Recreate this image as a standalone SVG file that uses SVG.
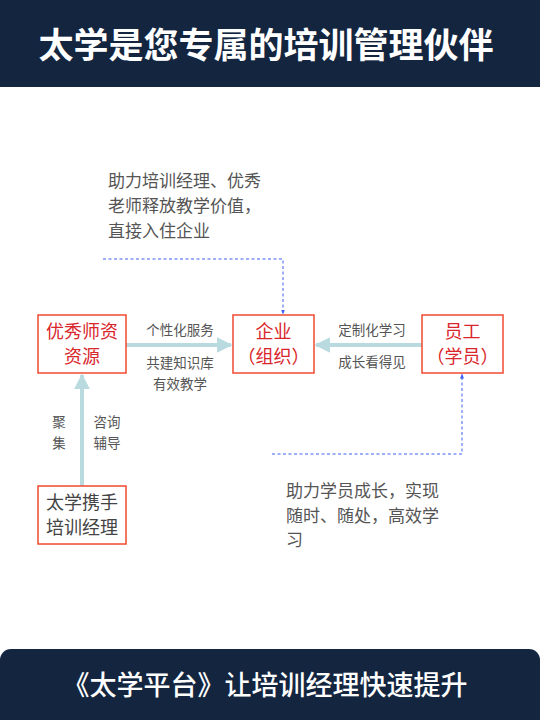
<svg xmlns="http://www.w3.org/2000/svg" width="540" height="720" viewBox="0 0 540 720">
<defs>
<style>
.t{font-family:"Noto Sans CJK SC","Noto Sans",sans-serif}
.box{fill:#fff;stroke:#f0492f;stroke-width:1.5}
.red{fill:#d9262b;font-size:18px}
.dk{fill:#444;font-size:18px}
.lbl{fill:#555;font-size:13.5px}
.para{fill:#555;font-size:17px}
.conn{stroke:#b9dbe0;stroke-width:4;fill:none}
.dash{stroke:#3f5ff5;stroke-width:1;stroke-dasharray:3 2.5;fill:none}
</style>
<marker id="ah" viewBox="0 0 10 10" refX="9" refY="5" markerWidth="4" markerHeight="4" orient="auto" markerUnits="strokeWidth">
<path d="M0,0L10,5L0,10z" fill="#b9dbe0"/>
</marker>
<marker id="ad" viewBox="0 0 10 10" refX="9" refY="5" markerWidth="5" markerHeight="5" orient="auto" markerUnits="strokeWidth">
<path d="M0,1L10,5L0,9z" fill="#3f5ff5"/>
</marker>
</defs>
<rect x="0" y="0" width="540" height="87" fill="#13253f"/>
<text class="t" x="266" y="58" text-anchor="middle" fill="#fff" font-size="35" font-weight="bold">太学是您专属的培训管理伙伴</text>
<g id="connectors">
<line class="conn" x1="126" y1="345" x2="231" y2="345" marker-end="url(#ah)"/>
<line class="conn" x1="422" y1="345" x2="316" y2="345" marker-end="url(#ah)"/>
<line class="conn" x1="82" y1="486" x2="82" y2="375" marker-end="url(#ah)"/>
<polyline class="dash" points="103,259 283,259 283,314" marker-end="url(#ad)"/>
<polyline class="dash" points="272,454 462,454 462,374" marker-end="url(#ad)"/>
<text class="t lbl" x="180" y="335" text-anchor="middle">个性化服务</text>
<text class="t lbl" x="180" y="368" text-anchor="middle">共建知识库</text>
<text class="t lbl" x="180" y="389" text-anchor="middle">有效教学</text>
<text class="t lbl" x="372" y="335" text-anchor="middle">定制化学习</text>
<text class="t lbl" x="372" y="367" text-anchor="middle">成长看得见</text>
<text class="t lbl" x="59" y="427" text-anchor="middle">聚</text>
<text class="t lbl" x="59" y="448" text-anchor="middle">集</text>
<text class="t lbl" x="107" y="427" text-anchor="middle">咨询</text>
<text class="t lbl" x="107" y="448" text-anchor="middle">辅导</text>
</g>
<g id="n-teachers">
<rect class="box" x="38" y="315" width="88" height="58"/>
<text class="t red" x="82" y="338" text-anchor="middle">优秀师资</text>
<text class="t red" x="82" y="363" text-anchor="middle">资源</text>
</g>
<g id="n-company">
<rect class="box" x="233" y="315" width="81" height="58"/>
<text class="t red" x="273.5" y="338" text-anchor="middle">企业</text>
<text class="t red" x="273.5" y="363" text-anchor="middle">（组织）</text>
</g>
<g id="n-staff">
<rect class="box" x="422" y="315" width="81" height="58"/>
<text class="t red" x="462.5" y="338" text-anchor="middle">员工</text>
<text class="t red" x="462.5" y="363" text-anchor="middle">（学员）</text>
</g>
<g id="n-manager">
<rect class="box" x="38" y="486" width="88" height="58"/>
<text class="t dk" x="82" y="509" text-anchor="middle">太学携手</text>
<text class="t dk" x="82" y="534" text-anchor="middle">培训经理</text>
</g>
<g id="note-top">
<text class="t para" x="108" y="187">助力培训经理、优秀</text>
<text class="t para" x="108" y="212">老师释放教学价值，</text>
<text class="t para" x="108" y="237">直接入住企业</text>
</g>
<g id="note-bottom">
<text class="t para" x="286" y="497">助力学员成长，实现</text>
<text class="t para" x="286" y="522">随时、随处，高效学</text>
<text class="t para" x="286" y="546">习</text>
</g>
<rect x="0" y="649" width="540" height="90" rx="11" fill="#13253f"/>
<text class="t" x="265" y="695" text-anchor="middle" fill="#fff" font-size="27" font-weight="500">《太学平台》让培训经理快速提升</text>
</svg>
